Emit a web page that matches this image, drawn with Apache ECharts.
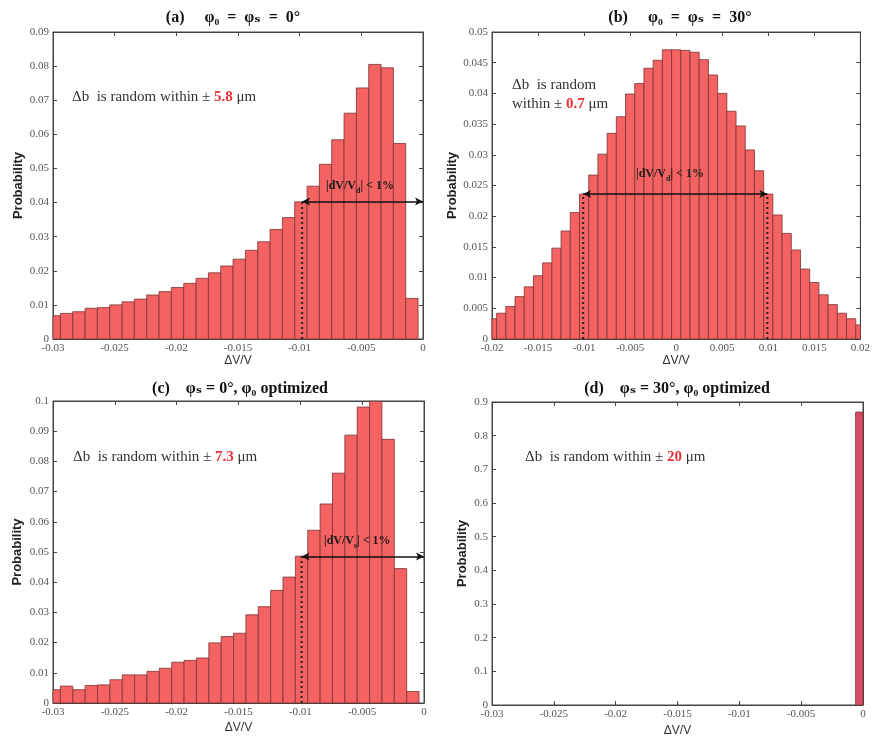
<!DOCTYPE html>
<html>
<head>
<meta charset="utf-8">
<title>Probability histograms</title>
<script src="https://cdn.jsdelivr.net/npm/echarts@6/dist/echarts.min.js"></script>
<style>
  html, body { margin: 0; padding: 0; background: #fff; }
  #chart { width: 873px; height: 743px; }
</style>
</head>
<body>
<div id="chart"></div>
<script>
// (a) phi0 = phis = 0 deg
const aCenters = [-0.0299, -0.0289, -0.0279, -0.0269, -0.0259, -0.0249, -0.0239, -0.0229, -0.0219, -0.0209,
                  -0.0199, -0.0189, -0.0179, -0.0169, -0.0159, -0.0149, -0.0139, -0.0129, -0.0119, -0.0109,
                  -0.0099, -0.0089, -0.0079, -0.0069, -0.0059, -0.0049, -0.0039, -0.0029, -0.0019, -0.0009];
const aProb = [0.0068, 0.0075, 0.0080, 0.0090, 0.0092, 0.0100, 0.0109, 0.0117, 0.0129, 0.0139,
               0.0151, 0.0163, 0.0178, 0.0194, 0.0214, 0.0234, 0.0260, 0.0285, 0.0321, 0.0356,
               0.0402, 0.0448, 0.0512, 0.0584, 0.0662, 0.0736, 0.0805, 0.0795, 0.0573, 0.0119];
// (b) phi0 = phis = 30 deg
const bCenters = [-0.020, -0.019, -0.018, -0.017, -0.016, -0.015, -0.014, -0.013, -0.012, -0.011,
                  -0.010, -0.009, -0.008, -0.007, -0.006, -0.005, -0.004, -0.003, -0.002, -0.001,
                  0.000, 0.001, 0.002, 0.003, 0.004, 0.005, 0.006, 0.007, 0.008, 0.009,
                  0.010, 0.011, 0.012, 0.013, 0.014, 0.015, 0.016, 0.017, 0.018, 0.019, 0.020];
const bProb = [0.0033, 0.0042, 0.0053, 0.0069, 0.0085, 0.0103, 0.0124, 0.0148, 0.0176, 0.0206,
               0.0236, 0.0267, 0.0301, 0.0335, 0.0362, 0.0399, 0.0416, 0.0441, 0.0454, 0.0471,
               0.0471, 0.0470, 0.0467, 0.0455, 0.0430, 0.0400, 0.0371, 0.0347, 0.0308, 0.0274,
               0.0236, 0.0202, 0.0172, 0.0145, 0.0114, 0.0092, 0.0072, 0.0056, 0.0042, 0.0033, 0.0023];
// (c) phis = 0 deg, phi0 optimized
const cCenters = aCenters;
const cProb = [0.0044, 0.0056, 0.0044, 0.0058, 0.0060, 0.0077, 0.0093, 0.0093, 0.0105, 0.0115,
               0.0135, 0.0141, 0.0149, 0.0199, 0.0220, 0.0231, 0.0292, 0.0319, 0.0373, 0.0417,
               0.0486, 0.0572, 0.0659, 0.0761, 0.0887, 0.0980, 0.0999, 0.0873, 0.0445, 0.0038];
// (d) phis = 30 deg, phi0 optimized
const dCenters = [-0.0003];
const dProb = [0.87];

const binW = { a: 0.001, b: 0.001, c: 0.001, d: 0.0006 };

// dotted limit lines and |dV/V| < 1% arrow for each panel
const aLimit = { dots: [-0.0098], y: 0.0403, from: -0.0098, to: 0 };
const bLimit = { dots: [-0.0101, 0.0099], y: 0.0236, from: -0.0101, to: 0.0099 };
const cLimit = { dots: [-0.0099], y: 0.0485, from: -0.0099, to: 0 };

// axis ranges [min, max, interval]
const xRanges = [[-0.03, 0, 0.005], [-0.02, 0.02, 0.005], [-0.03, 0, 0.005], [-0.03, 0, 0.005]];
const yRanges = [[0, 0.09, 0.01], [0, 0.05, 0.005], [0, 0.1, 0.01], [0, 0.9, 0.1]];

const serif = '"Liberation Serif", "DejaVu Serif", serif';
const sans = '"Liberation Sans", Arial, sans-serif';

const grids = [
  { left: 53, top: 32, width: 370, height: 307 },
  { left: 492, top: 32, width: 372, height: 307 },
  { left: 53, top: 401, width: 371, height: 302 },
  { left: 492, top: 402, width: 371, height: 303 }
];
const yNameGap = [28, 33, 29, 23];
const xNameGap = [16, 16, 19, 20];

function toBins(centers, vals, w) {
  return centers.map((c, i) => [c - w / 2, c + w / 2, vals[i]]);
}

function renderHist(params, api) {
  const p0 = api.coord([api.value(0), api.value(2)]);
  const p1 = api.coord([api.value(1), 0]);
  const cs = params.coordSys;
  const rect = echarts.graphic.clipRectByRect(
    { x: p0[0], y: p0[1], width: p1[0] - p0[0], height: p1[1] - p0[1] },
    { x: cs.x, y: cs.y, width: cs.width, height: cs.height }
  );
  if (!rect) return null;
  return {
    type: 'rect',
    shape: rect,
    style: api.style({ fill: api.visual('color'), stroke: '#7a3434', lineWidth: 0.8 })
  };
}

const xAxes = [], yAxes = [], series = [];
grids.forEach((g, i) => {
  const xr = xRanges[i], yr = yRanges[i];
  ['bottom', 'top'].forEach(pos => {
    xAxes.push({
      type: 'value', gridIndex: i, position: pos, min: xr[0], max: xr[1], interval: xr[2],
      name: pos === 'bottom' ? 'ΔV/V' : '', nameLocation: 'middle', nameGap: xNameGap[i],
      nameTextStyle: { fontFamily: sans, fontSize: 12, color: '#333' },
      axisLine: { show: true, onZero: false, lineStyle: { color: '#444', width: 1 } },
      axisTick: { show: true, inside: true, length: 4, lineStyle: { color: '#444' } },
      axisLabel: { show: pos === 'bottom', fontFamily: serif, fontSize: 11, color: '#555', margin: 4 },
      splitLine: { show: false }
    });
  });
  ['left', 'right'].forEach(pos => {
    yAxes.push({
      type: 'value', gridIndex: i, position: pos, min: yr[0], max: yr[1], interval: yr[2],
      name: pos === 'left' ? 'Probability' : '', nameLocation: 'middle', nameGap: yNameGap[i], nameRotate: 90,
      nameTextStyle: { fontFamily: sans, fontSize: 13, fontWeight: 'bold', color: '#222' },
      axisLine: { show: true, onZero: false, lineStyle: { color: '#444', width: 1 } },
      axisTick: { show: true, inside: true, length: 4, lineStyle: { color: '#444' } },
      axisLabel: { show: pos === 'left', fontFamily: serif, fontSize: 11, color: '#555', margin: 4 },
      splitLine: { show: false }
    });
  });
});

const hists = [
  toBins(aCenters, aProb, binW.a),
  toBins(bCenters, bProb, binW.b),
  toBins(cCenters, cProb, binW.c),
  toBins(dCenters, dProb, binW.d)
];
const colors = ['#f46262', '#f46262', '#f46262', '#d94c68'];
hists.forEach((data, i) => {
  series.push({
    type: 'custom', xAxisIndex: i * 2, yAxisIndex: i * 2, renderItem: renderHist,
    itemStyle: { color: colors[i] }, data: data, encode: { x: [0, 1], y: 2 }, silent: true
  });
});

[aLimit, bLimit, cLimit].forEach((lim, i) => {
  lim.dots.forEach((x, j) => {
    series.push({
      type: 'line', xAxisIndex: i * 2, yAxisIndex: i * 2, symbol: 'none', silent: true,
      lineStyle: { color: '#222', width: 2, type: [2, 3] },
      data: [[x, 0], [x, lim.y]],
      z: 5,
      markLine: j === 0 ? {
        silent: true, symbol: ['arrow', 'arrow'], symbolSize: [6, 8],
        lineStyle: { color: '#111', width: 1.5, type: 'solid' }, label: { show: false },
        data: [[{ coord: [lim.from, lim.y] }, { coord: [lim.to, lim.y] }]]
      } : undefined
    });
  });
});

const titleStyle = { fontFamily: serif, fontSize: 16, fontWeight: 'bold', color: '#111' };
const noteRich = {
  n: { fontFamily: serif, fontSize: 15, fill: '#333' },
  r: { fontFamily: serif, fontSize: 15, fill: '#e8323a', fontWeight: 'bold' }
};
const limRich = {
  n: { fontFamily: serif, fontSize: 12, fontWeight: 'bold', fill: '#1a1a1a' },
  s: { fontFamily: serif, fontSize: 8, fontWeight: 'bold', fill: '#1a1a1a', padding: [9, 0, 0, 0] }
};

function note(left, top, text) {
  return { type: 'text', left: left, top: top, z: 20, style: { text: text, rich: noteRich } };
}
function limText(left, top, sub) {
  return { type: 'text', left: left, top: top, z: 20,
    style: { text: '{n||dV/V}{s|' + sub + '}{n|| < 1%}', rich: limRich } };
}

const option = {
  animation: false,
  backgroundColor: '#fff',
  title: [
    { text: '(a)     φ₀  =  φₛ  =  0°', left: 228, top: 5, textAlign: 'center', textStyle: titleStyle },
    { text: '(b)     φ₀  =  φₛ  =  30°', left: 675, top: 5, textAlign: 'center', textStyle: titleStyle },
    { text: '(c)    φₛ = 0°, φ₀ optimized', left: 235, top: 376, textAlign: 'center', textStyle: titleStyle },
    { text: '(d)    φₛ = 30°, φ₀ optimized', left: 672, top: 376, textAlign: 'center', textStyle: titleStyle }
  ],
  grid: grids.map(g => Object.assign({ show: true, borderColor: '#444', borderWidth: 1, backgroundColor: '#fff' }, g)),
  xAxis: xAxes,
  yAxis: yAxes,
  series: series,
  graphic: [
    note(72, 90, '{n|Δb  is random within ± }{r|5.8}{n| μm}'),
    note(512, 78, '{n|Δb  is random}'),
    note(512, 97, '{n|within ± }{r|0.7}{n| μm}'),
    note(73, 450, '{n|Δb  is random within ± }{r|7.3}{n| μm}'),
    note(525, 450, '{n|Δb  is random within ± }{r|20}{n| μm}'),
    limText(326, 180, 'd'),
    limText(636, 168, 'd'),
    limText(324, 535, 's')
  ]
};

const chart = echarts.init(document.getElementById('chart'), null, { renderer: 'canvas' });
chart.setOption(option);
</script>
</body>
</html>
